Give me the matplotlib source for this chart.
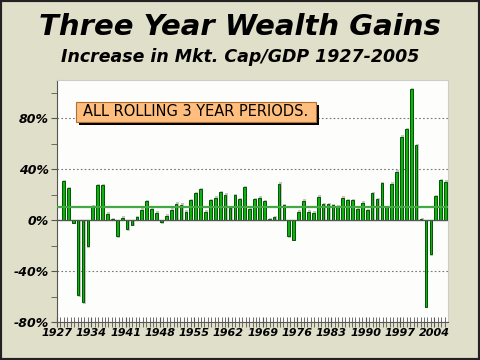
import matplotlib
matplotlib.use('Agg')
import matplotlib.pyplot as plt
from matplotlib.patches import Rectangle
import numpy as np

# rolling 3 year change in market cap / GDP, 1927-2005 (%)
years = list(range(1927, 2006))
gains = [30.6, 25, -2, -59, -64.6, -20.7, 10.7, 27.4, 27.4, 4.9,
         0.5, -12.5, 2, -7, -3.7, 2.3, 8, 14.9, 9, 5.7,
         -1.6, 3.4, 8, 12.8, 12, 6.5, 15.7, 21.2, 24.3, 6.5,
         15.4, 17.5, 21.7, 19.8, 9.6, 19.5, 16.2, 25.9, 8.9, 16.2,
         17.5, 14.9, 0.8, 2.3, 28.4, 11.5, -12.5, -15.5, 6.5, 15.2,
         6.5, 5.7, 18.3, 12.5, 12.5, 11.8, 10.7, 17.5, 15.4, 15.4,
         9.1, 13.8, 7.8, 21.2, 16.2, 29, 10.2, 28.5, 37.9, 65.3,
         71.3, 102.7, 58.8, 0.8, -68.2, -26.9, 18.8, 31.4, 30]
average = 10.5
label_years = years[::7]
y_ticks = [-80, -40, 0, 40, 80]

bg = '#E0E0CA'
fig = plt.figure(figsize=(4.8, 3.6), dpi=100, facecolor=bg)
fig.patches.append(Rectangle((0, 0), 1, 1, transform=fig.transFigure, fill=False,
                             edgecolor='#222222', lw=3))

ax = fig.add_axes([57/480, 38/360, 391/480, 242/360])
ax.set_facecolor('#FDFDFB')

x = np.arange(len(years))
off = -1.3
ax.set_xlim(off, 78.5)
ax.set_ylim(-80, 110)

for g in [40, 80, -40]:
    ax.axhline(g, color='#777777', lw=0.8, ls=(0, (1.5, 2)), zorder=1)

# bar shadows then bars
sh = [v + (1.2 if v >= 0 else -1.2) for v in gains]
ax.bar(x + 0.22, sh, width=0.6, color='#C4C4C4', zorder=2)
ax.bar(x, gains, width=0.55, color='#10B010', edgecolor='#005500', lw=0.7, zorder=3)

ax.axhline(0, color='#555555', lw=1, zorder=4)
ax.axhline(average, color='#44A844', lw=1.6, zorder=5)

# axes styling
for s in ['top', 'right']:
    ax.spines[s].set_color('#CCCCCC')
ax.spines['left'].set_color('#555555')
ax.spines['bottom'].set_color('#555555')

ax.set_yticks(y_ticks)
ax.set_yticklabels(['%d%%' % t for t in y_ticks], fontsize=9, fontweight='bold', fontstyle='italic')
ax.set_yticks(range(-80, 111, 20), minor=True)
ax.tick_params(axis='y', which='both', length=4, color='#555555', pad=2)

ax.set_xticks([off + (y - 1927) for y in label_years])
ax.set_xticklabels([str(y) for y in label_years], fontsize=8, fontweight='bold', fontstyle='italic')
ax.set_xticks(np.arange(off, 78.5, 0.7), minor=True)
ax.tick_params(axis='x', which='both', direction='inout', length=7, color='#555555', pad=1)

fig.text(0.5, 0.925, 'Three Year Wealth Gains', ha='center', va='center',
         fontsize=21, fontweight='bold', fontstyle='italic')
fig.text(0.5, 0.842, 'Increase in Mkt. Cap/GDP 1927-2005', ha='center', va='center',
         fontsize=12.5, fontweight='bold', fontstyle='italic')

# label box with shadow
bx, by, bw, bh = 76/480, (360-122)/360, 240/480, 20/360
fig.patches.append(Rectangle((bx + 3/480, by - 3/360), bw, bh, transform=fig.transFigure,
                             facecolor='black', edgecolor='none', zorder=10))
fig.patches.append(Rectangle((bx, by), bw, bh, transform=fig.transFigure,
                             facecolor='#FFBE7D', edgecolor='#B07030', lw=0.8, zorder=11))
fig.text(bx + bw/2, by + bh/2, 'ALL ROLLING 3 YEAR PERIODS.', ha='center', va='center',
         fontsize=10.5, zorder=12)

fig.savefig('out.png', dpi=100, facecolor=bg)
